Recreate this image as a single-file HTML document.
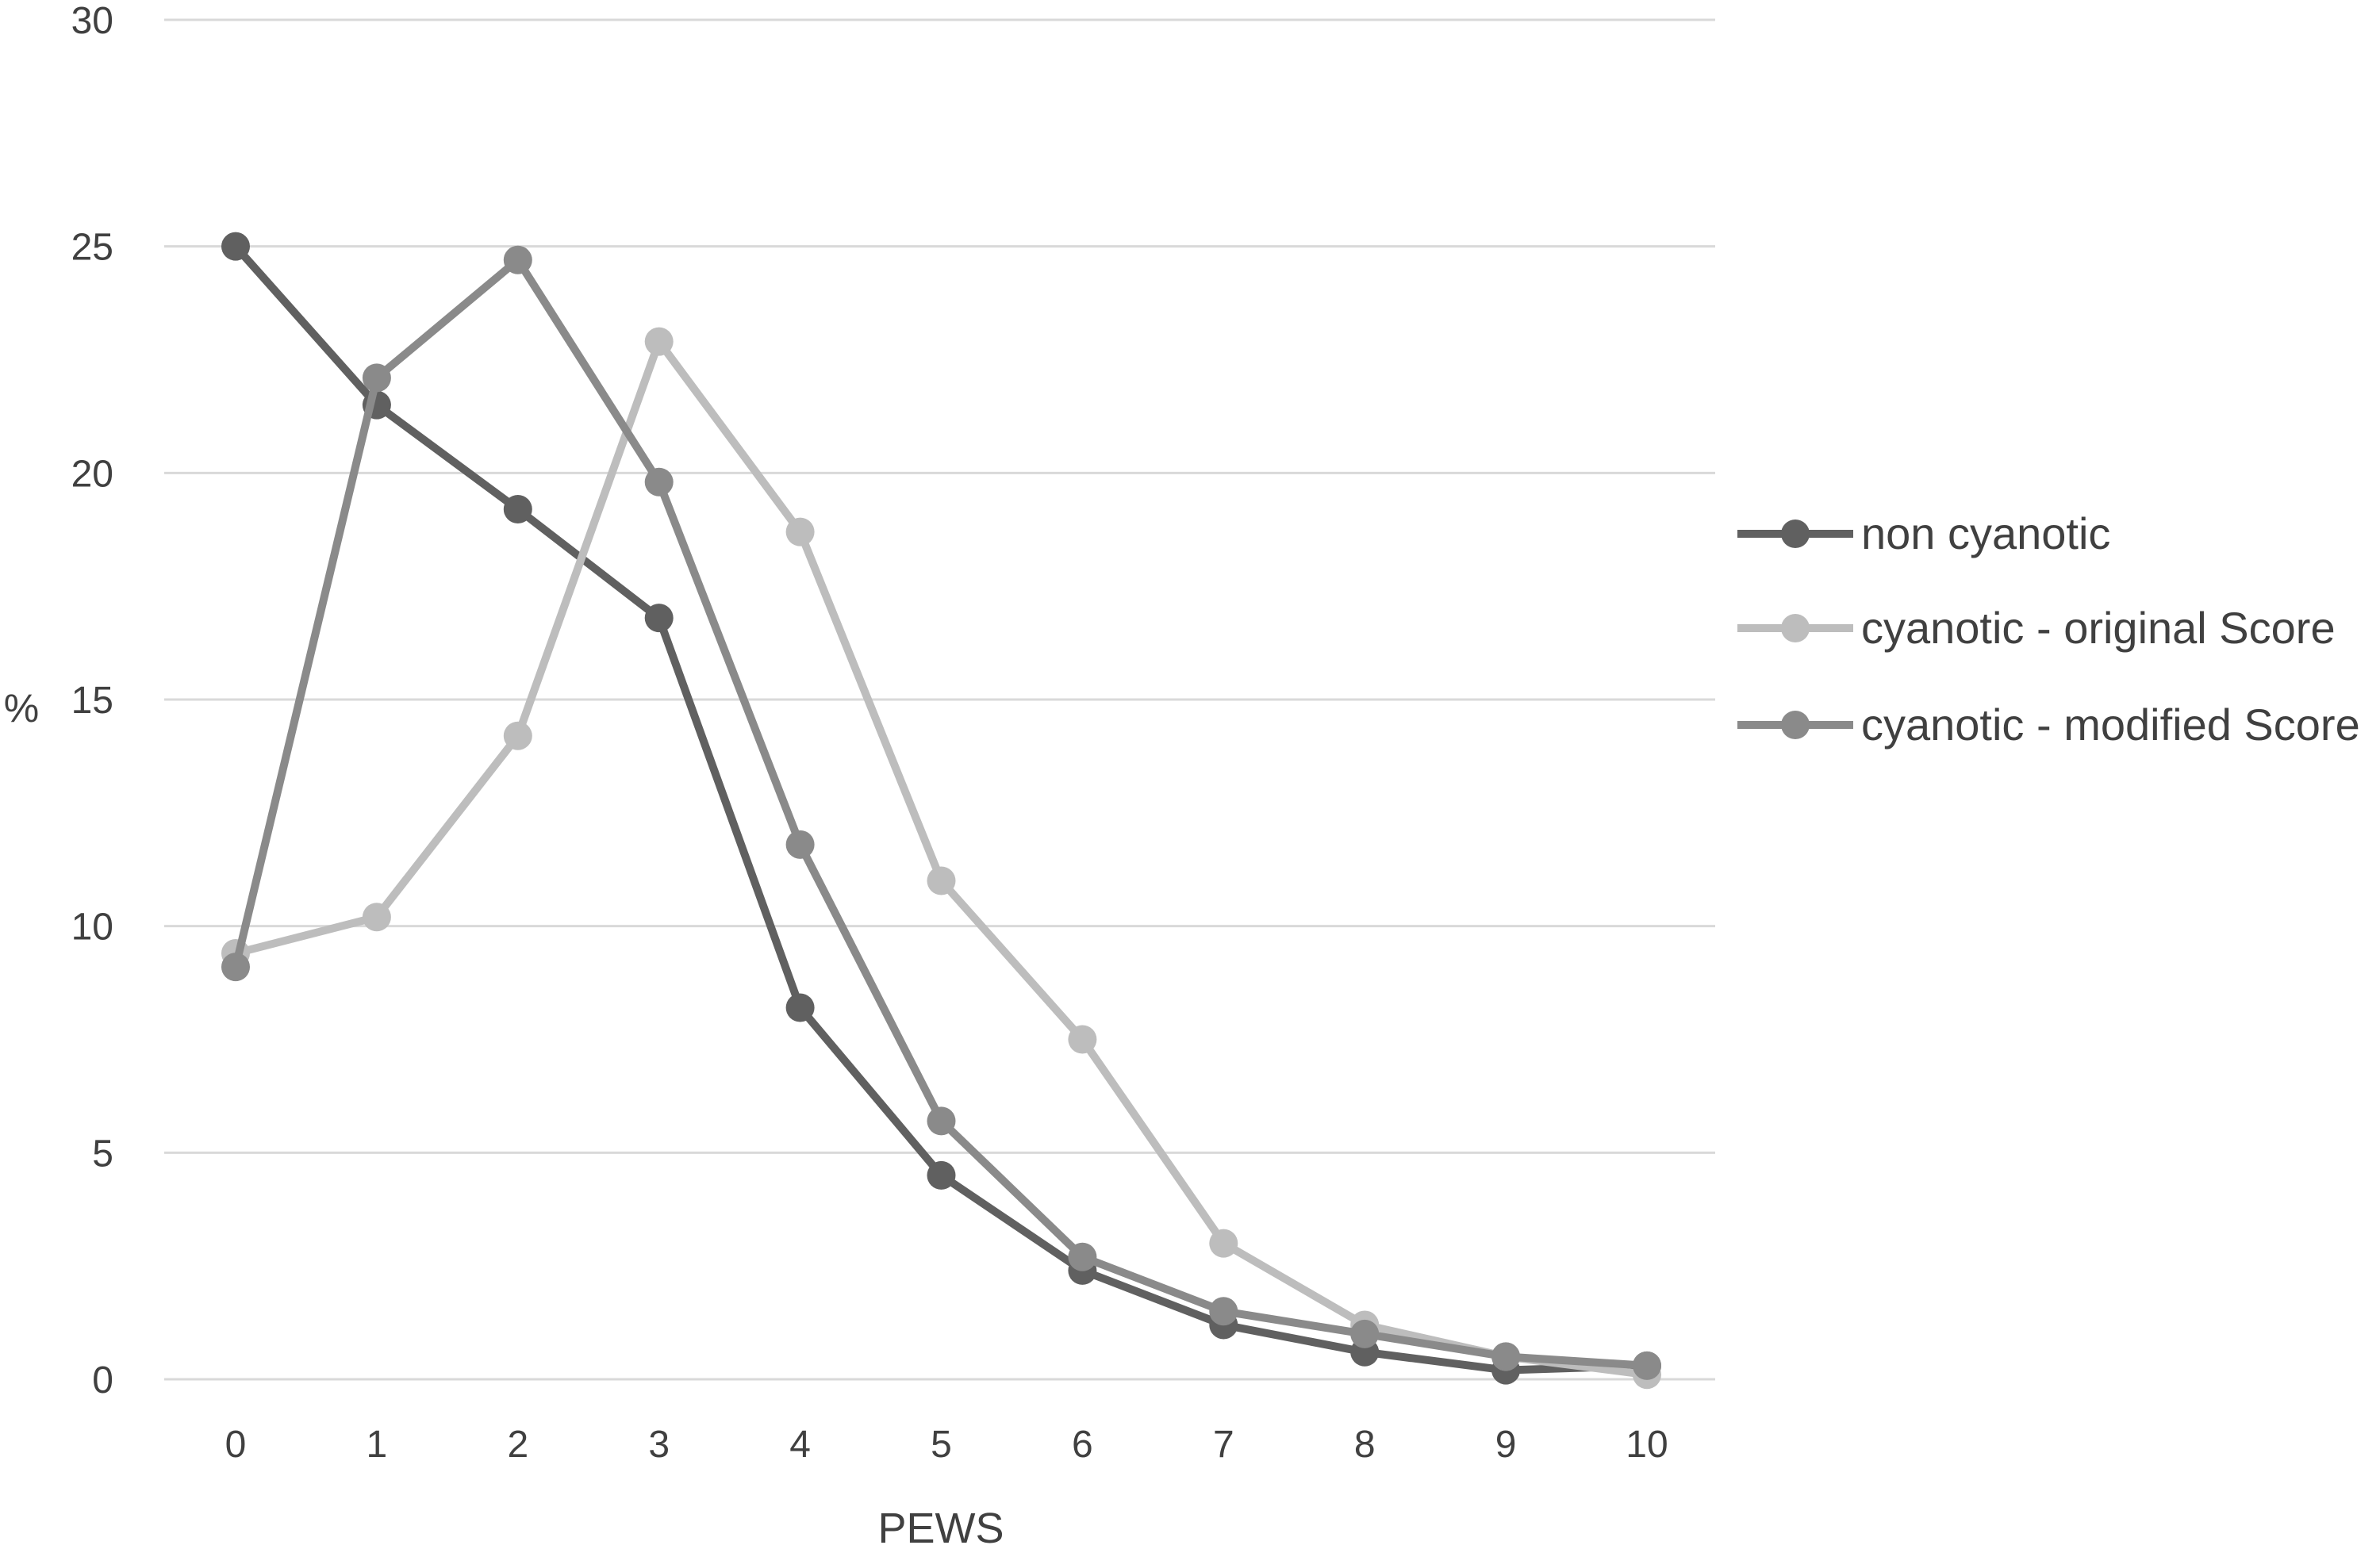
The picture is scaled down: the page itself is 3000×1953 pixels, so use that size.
<!DOCTYPE html>
<html><head><meta charset="utf-8"><style>
html,body{margin:0;padding:0;background:#fff;}
svg{display:block;font-family:"Liberation Sans",sans-serif;}
</style></head><body>
<svg id="chart" width="3000" height="1953" viewBox="0 0 3000 1953" xmlns="http://www.w3.org/2000/svg">
<g id="grid"></g>
<g id="yticks"></g>
<g id="xticks"></g>
<g id="series"></g>
<text x="27" y="910" font-size="50" fill="#404040" text-anchor="middle">%</text>
<text x="1186" y="1945" font-size="54" fill="#404040" text-anchor="middle">PEWS</text>
<g id="legend"></g>
</svg>
<script>
const categories=[0,1,2,3,4,5,6,7,8,9,10];
const yTicks=[0,5,10,15,20,25,30];
const seriesNames=["non cyanotic","cyanotic - original Score","cyanotic - modified Score"];
const nonCyanotic=[25,21.5,19.2,16.8,8.2,4.5,2.4,1.2,0.6,0.2,0.3];
const cyanoticOriginal=[9.4,10.2,14.2,22.9,18.7,11.0,7.5,3.0,1.2,0.5,0.1];
const cyanoticModified=[9.1,22.1,24.7,19.8,11.8,5.7,2.7,1.5,1.0,0.5,0.3];
const colors=["#606060","#bdbdbd","#8a8a8a"];
const NS="http://www.w3.org/2000/svg";
const X0=297,X1=2076,Y0=1739,Y1=25;
const xs=v=>X0+(v-0)*(X1-X0)/10;
const ys=v=>Y0-(v/30)*(Y0-Y1);
function mk(tag,attrs,parent){const e=document.createElementNS(NS,tag);for(const k in attrs)e.setAttribute(k,attrs[k]);parent.appendChild(e);return e;}
const grid=document.getElementById('grid'),yt=document.getElementById('yticks'),xt=document.getElementById('xticks'),sg=document.getElementById('series'),lg=document.getElementById('legend');
yTicks.forEach(t=>{
  const l=mk('line',{x1:207,x2:2162,y1:ys(t),y2:ys(t),stroke:'#d9d9d9','stroke-width':3},grid);
  
  
  const tx=mk('text',{x:143,y:ys(t)+17,'font-size':48,fill:'#404040','text-anchor':'end'},yt);
  tx.textContent=t;
  
  
});
categories.forEach(c=>{
  const tx=mk('text',{x:xs(c),y:1837,'font-size':48,fill:'#404040','text-anchor':'middle'},xt);
  tx.textContent=c;
  
  
});
const allData=[nonCyanotic,cyanoticOriginal,cyanoticModified];
allData.forEach((d,i)=>{
  const g=mk('g',{},sg);
  
  
  const pts=d.map((v,j)=>xs(categories[j])+','+ys(v)).join(' ');
  const pl=mk('polyline',{points:pts,fill:'none',stroke:colors[i],'stroke-width':10,'stroke-linejoin':'round'},g);
  
  
  d.forEach((v,j)=>{
    const c=mk('circle',{cx:xs(categories[j]),cy:ys(v),r:18,fill:colors[i]},g);
    
    
  });
});
const legY=[673,792,914];
seriesNames.forEach((n,i)=>{
  const g=mk('g',{},lg);
  
  
  mk('line',{x1:2190,x2:2336,y1:legY[i],y2:legY[i],stroke:colors[i],'stroke-width':10},g);
  mk('circle',{cx:2263,cy:legY[i],r:18,fill:colors[i]},g);
  const t=mk('text',{x:2346,y:legY[i]+19,'font-size':56,fill:'#404040'},g);
  t.textContent=n;
});
</script>
</body></html>
